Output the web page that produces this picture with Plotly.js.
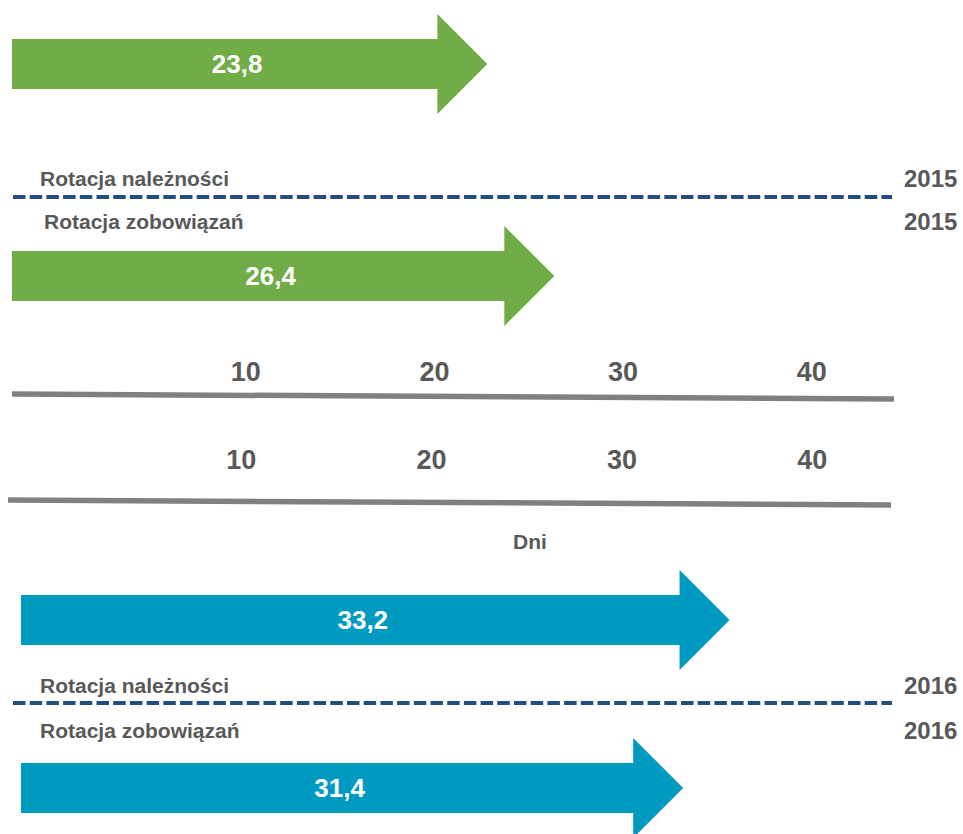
<!DOCTYPE html>
<html>
<head>
<meta charset="utf-8">
<script src="https://cdn.plot.ly/plotly-3.0.1.min.js"></script>
<style>html,body{margin:0;padding:0;background:#fff;}#chart{width:963px;height:834px;}</style>
</head>
<body>
<div id="chart"></div>
<script>
// ---- data ----
const CATEGORIES = ['Rotacja należności', 'Rotacja zobowiązań'];
const YEARS = ['2015', '2016'];
const VALUES_2015 = [23.8, 26.4];
const VALUES_2016 = [33.2, 31.4];
const TICK_VALUES = [10, 20, 30, 40];
const TICK_TEXT = ['10', '20', '30', '40'];
const AXIS_TITLE = 'Dni';

// ---- styling / layout ----
const W = 963, H = 834;
const GREEN = '#70AD47', BLUE = '#0099BF', GREY_TXT = '#595959', NAVY = '#264C7E', AXIS_GREY = '#808080';
const FONT = 'Liberation Sans, Arial, sans-serif';
// arrow scale (pixels per day and offset as drawn in the original graphic)
const PX0 = -126, PXU = 25.77;
const BODY = 25, HEAD = 50, HEADLEN = 50 / PXU;

function arrowAxis(tailPx) {
  return {domain: [tailPx / W, 1], range: [(tailPx - PX0) / PXU, (W - PX0) / PXU],
          visible: false, fixedrange: true};
}
function arrowTraces(value, cy, xa, color, tailPx) {
  const base = value - HEADLEN;
  const tail = (tailPx - PX0) / PXU;
  return [{
    type: 'scatter', mode: 'lines', xaxis: xa, yaxis: 'y',
    x: [0, base, base, value, base, base, 0, 0],
    y: [cy - BODY, cy - BODY, cy - HEAD, cy, cy + HEAD, cy + BODY, cy + BODY, cy - BODY],
    fill: 'toself', fillcolor: color, line: {width: 0, color: color}, hoverinfo: 'skip', showlegend: false
  }, {
    type: 'scatter', mode: 'text', xaxis: xa, yaxis: 'y',
    x: [(tail + value - 25 / PXU) / 2], y: [cy + 2],
    text: [value.toFixed(1).replace('.', ',')],
    textfont: {family: FONT, size: 26, color: '#ffffff', weight: 700},
    textposition: 'middle center', hoverinfo: 'skip', showlegend: false, cliponaxis: false
  }];
}

const ROWS_2015 = {arrows: [64, 276], labels: [178, 221], labelX: [38, 42], dash: 197};
const ROWS_2016 = {arrows: [620, 788], labels: [685, 730], labelX: [38, 38], dash: 703};

let traces = [];
traces = traces.concat(arrowTraces(VALUES_2015[0], ROWS_2015.arrows[0], 'x', GREEN, 12));
traces = traces.concat(arrowTraces(VALUES_2015[1], ROWS_2015.arrows[1], 'x', GREEN, 12));
traces = traces.concat(arrowTraces(VALUES_2016[0], ROWS_2016.arrows[0], 'x4', BLUE, 21));
traces = traces.concat(arrowTraces(VALUES_2016[1], ROWS_2016.arrows[1], 'x4', BLUE, 21));

// day axes (two scales as in the original)
const AX2 = {left: 12, right: 894, zeroPx: 57, pxPerDay: 18.87, yL: 394, yR: 399, pos: 386};
const AX3 = {left: 8, right: 891, zeroPx: 51, pxPerDay: 19.03, yL: 500, yR: 505, pos: 474};
function dayAxis(a) {
  return {
    domain: [a.left / W, a.right / W],
    range: [(a.left - a.zeroPx) / a.pxPerDay, (a.right - a.zeroPx) / a.pxPerDay],
    anchor: 'free', position: 1 - a.pos / H, side: 'top',
    tickmode: 'array', tickvals: TICK_VALUES, ticktext: TICK_TEXT,
    tickfont: {family: FONT, size: 27, color: GREY_TXT, weight: 700},
    ticks: '', showgrid: false, zeroline: false, showline: false, ticklabelstandoff: 0, fixedrange: true
  };
}
function axisLine(a, xa) {
  const r = [(a.left - a.zeroPx) / a.pxPerDay, (a.right - a.zeroPx) / a.pxPerDay];
  return {type: 'scatter', mode: 'lines', xaxis: xa, yaxis: 'y', x: r, y: [a.yL, a.yR],
          line: {color: AXIS_GREY, width: 5.5}, hoverinfo: 'skip', showlegend: false, cliponaxis: false};
}
traces.push(axisLine(AX2, 'x2'));
traces.push(axisLine(AX3, 'x3'));

const annotations = [];
function labelRow(rows, year) {
  CATEGORIES.forEach((c, i) => {
    annotations.push({xref: 'paper', yref: 'y', x: rows.labelX[i] / W, y: rows.labels[i], xanchor: 'left', yanchor: 'middle',
      text: c, showarrow: false, font: {family: FONT, size: 21, color: GREY_TXT, weight: 700}});
    annotations.push({xref: 'paper', yref: 'y', x: 959 / W, y: rows.labels[i], xanchor: 'right', yanchor: 'middle',
      text: year, showarrow: false, font: {family: FONT, size: 24, color: GREY_TXT, weight: 700}});
  });
}
labelRow(ROWS_2015, YEARS[0]);
labelRow(ROWS_2016, YEARS[1]);
annotations.push({xref: 'paper', yref: 'y', x: 530 / W, y: 541, xanchor: 'center', yanchor: 'middle',
  text: AXIS_TITLE, showarrow: false, font: {family: FONT, size: 21, color: GREY_TXT, weight: 700}});

const shapes = [ROWS_2015.dash, ROWS_2016.dash].map(yv => ({
  type: 'line', xref: 'paper', yref: 'y', x0: 13 / W, x1: 892 / W, y0: yv, y1: yv,
  line: {color: NAVY, width: 4, dash: '12.5px,4.2px'}
}));

const layout = {
  width: W, height: H, margin: {l: 0, r: 0, t: 0, b: 0, pad: 0},
  paper_bgcolor: '#ffffff', plot_bgcolor: 'rgba(0,0,0,0)',
  showlegend: false, hovermode: false,
  xaxis: arrowAxis(12),
  xaxis4: arrowAxis(21),
  xaxis2: dayAxis(AX2),
  xaxis3: dayAxis(AX3),
  yaxis: {domain: [0, 1], range: [H, 0], visible: false, fixedrange: true},
  annotations: annotations,
  shapes: shapes
};

Plotly.newPlot('chart', traces, layout, {displayModeBar: false, staticPlot: true});
</script>
</body>
</html>
